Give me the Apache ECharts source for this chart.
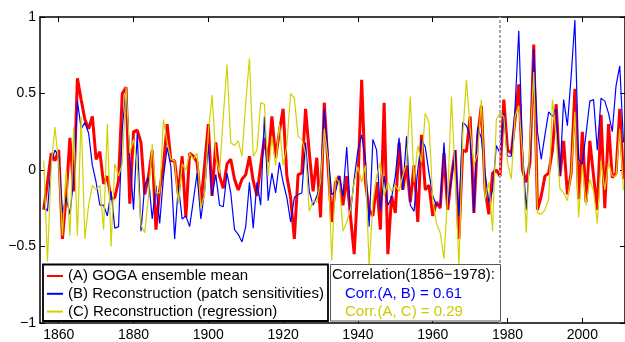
<!DOCTYPE html>
<html>
<head>
<meta charset="utf-8">
<script src="https://cdn.jsdelivr.net/npm/echarts@6/dist/echarts.min.js"></script>
<style>
  html, body { margin: 0; padding: 0; background: #fff; }
  #main { width: 625px; height: 342px; }
</style>
</head>
<body>
<div id="main"></div>
<script>
const firstYear = 1856;

// (A) GOGA ensemble mean, one value per year from 1856
const goga = [
  -0.26, -0.08, 0.11, 0.06,
  0.13, -0.45, -0.17, 0.21, -0.14, 0.60, 0.46, 0.33, 0.27, 0.35,
  0.07, 0.12, -0.09, -0.04, -0.19, -0.18, -0.07, 0.50, 0.54, -0.22,
  0.25, 0.26, 0.18, -0.16, -0.04, 0.13, -0.39, -0.13, 0.03, 0.30,
  0.06, 0.06, -0.16, 0.09, -0.31, 0.11, 0.09, 0.05, -0.23, 0.03,
  0.30, -0.17, 0.18, -0.04, -0.12, 0.04, 0.07, -0.06, -0.13, -0.06,
  -0.03, 0.09, -0.07, -0.17, 0.03, 0.21, 0.05, 0.35, 0.08, 0.25,
  0.40, -0.04, -0.18, -0.45, -0.03, -0.02, 0.40, 0.11, -0.14, 0.08,
  -0.31, 0.44, 0.03, -0.34, -0.08, -0.04, -0.23, -0.04, -0.30, -0.55,
  -0.08, 0.59, -0.08, -0.26, -0.30, -0.08, -0.39, 0.44, -0.55, -0.17,
  -0.28, 0.18, -0.13, 0.03, -0.21, 0.03, -0.34, 0.23, -0.13, -0.10,
  -0.30, -0.21, -0.25, 0.11, -0.26, -0.04, 0.13, -0.45, 0.13, 0.12,
  0.35, -0.28, 0.22, 0.42, -0.13, -0.29, -0.02, 0.00, -0.04, 0.46,
  0.13, 0.11, 0.33, 0.56, 0.00, -0.08, 0.05, 0.82, -0.26, -0.17,
  -0.04, -0.02, 0.13, 0.43, -0.04, 0.19, -0.16, -0.02, 0.53, -0.19,
  0.25, -0.21, 0.19, -0.04, -0.26, 0.36, -0.25, 0.30, -0.05, -0.02,
  0.40, -0.06
];

// (B) Reconstruction (patch sensitivities)
const patch = [
  -0.23, -0.27, 0.05, 0.13,
  0.09, -0.28, -0.18, -0.29, -0.06, 0.45, 0.27, 0.31, 0.24, 0.03,
  -0.08, -0.23, -0.23, -0.30, -0.14, -0.38, -0.37, 0.27, 0.53, 0.09,
  -0.26, 0.24, -0.40, -0.10, -0.05, -0.32, -0.10, -0.35, -0.05, 0.15,
  0.02, -0.45, -0.10, -0.32, -0.30, -0.37, -0.20, -0.02, -0.32, -0.14,
  0.17, -0.17, -0.03, -0.23, -0.24, -0.02, -0.15, -0.39, -0.42, -0.47,
  -0.37, -0.08, -0.38, -0.08, -0.23, 0.35, -0.20, -0.02, -0.15, 0.05,
  -0.08, -0.18, -0.34, -0.18, -0.16, -0.15, 0.18, -0.14, -0.23, -0.17,
  -0.10, 0.40, 0.11, -0.16, -0.14, -0.04, -0.17, 0.15, -0.28, -0.06,
  0.13, 0.23, 0.07, -0.37, 0.20, 0.13, -0.27, -0.04, -0.23, -0.18,
  -0.04, 0.21, -0.13, 0.22, -0.23, -0.27, 0.00, 0.20, 0.15, -0.02,
  -0.17, -0.23, -0.23, 0.18, -0.23, -0.06, 0.13, -0.30, 0.31, 0.29,
  0.22, -0.28, 0.28, 0.21, -0.02, -0.21, -0.13, 0.16, 0.11, 0.37,
  0.09, 0.09, 0.40, 0.91, 0.13, -0.26, 0.09, 0.79, 0.25, 0.07,
  0.23, 0.38, 0.35, 0.40, -0.04, 0.46, 0.29, 0.61, 0.98, 0.07,
  0.04, 0.24, 0.45, 0.46, 0.13, 0.47, 0.45, 0.37, 0.25, 0.55,
  0.68, 0.18
];

// (C) Reconstruction (regression)
const regress = [
  0.06, -0.60, 0.03, 0.28,
  0.04, -0.43, 0.00, -0.43, 0.28, -0.43, 0.35, -0.45, -0.23, -0.10,
  -0.13, -0.10, -0.39, 0.30, -0.50, 0.04, -0.04, 0.04, 0.54, 0.11,
  0.20, 0.03, -0.36, -0.41, -0.17, 0.17, -0.15, -0.15, 0.33, 0.18,
  0.07, 0.06, -0.22, 0.04, 0.00, 0.11, 0.07, 0.11, -0.25, -0.16,
  0.24, 0.49, 0.09, -0.02, 0.35, 0.69, 0.18, 0.16, 0.19, 0.09,
  0.44, 0.73, 0.09, 0.13, 0.44, 0.43, -0.04, 0.22, 0.03, 0.30,
  0.03, 0.16, 0.50, 0.47, 0.22, 0.20, 0.11, -0.27, -0.20, -0.21,
  -0.08, 0.27, 0.07, -0.59, -0.05, -0.08, -0.40, -0.34, -0.26, -0.08,
  0.02, -0.08, 0.03, -0.63, -0.21, -0.04, 0.05, -0.17, -0.08, -0.14,
  -0.10, -0.14, -0.04, 0.05, 0.48, -0.08, 0.16, 0.05, 0.37, 0.31,
  -0.20, -0.35, -0.41, -0.58, -0.17, 0.48, -0.04, -0.63, 0.22, 0.59,
  0.27, 0.03, 0.11, 0.46, -0.19, -0.08, -0.40, 0.33, 0.37, 0.35,
  0.05, -0.06, 0.35, 0.42, 0.11, -0.41, 0.18, 0.64, -0.28, -0.29,
  -0.26, -0.19, 0.46, 0.22, -0.12, -0.15, -0.20, -0.02, 0.38, -0.31,
  0.03, -0.23, -0.06, -0.14, -0.35, 0.06, -0.13, 0.05, -0.04, -0.04,
  0.27, -0.13
];

const seriesNames = [
  '(A) GOGA ensemble mean',
  '(B) Reconstruction (patch sensitivities)',
  '(C) Reconstruction (regression)'
];
const xTicks = [1860, 1880, 1900, 1920, 1940, 1960, 1980, 2000];
const splitYear = 1978;
const corrLines = [
  'Correlation(1856\u22121978):',
  'Corr.(A, B) = 0.61',
  'Corr.(A, C) = 0.29'
];

const font = 'Liberation Sans, Arial, sans-serif';

let chart = echarts.init(document.getElementById('main'), null, { renderer: 'canvas' });

function toPairs(values) {
  return values.map((v, i) => [firstYear + i, v]);
}

function xAxisOf(position, showLabels) {
  return {
    type: 'value',
    position: position,
    min: 1855,
    max: 2011.4,
    axisLine: { show: true, onZero: false, lineStyle: { color: '#000', width: 1.5 } },
    axisTick: { show: true, inside: true, length: 5, customValues: xTicks, lineStyle: { color: '#000' } },
    axisLabel: {
      show: showLabels, customValues: xTicks, color: '#000', fontSize: 14, fontFamily: font, margin: 5,
      formatter: (v) => String(v)
    },
    splitLine: { show: false }
  };
}

function yAxisOf(position, showLabels) {
  return {
    type: 'value',
    position: position,
    min: -1,
    max: 1,
    interval: 0.5,
    axisLine: { show: true, onZero: false, lineStyle: { color: '#000', width: 1.5 } },
    axisTick: { show: true, inside: true, length: 5, lineStyle: { color: '#000' } },
    axisLabel: {
      show: showLabels, color: '#000', fontSize: 14, fontFamily: font, margin: 4,
      formatter: (v) => String(v).replace('-', '\u2212')
    },
    splitLine: { show: false }
  };
}

function createChartOptions() {
  return {
    animation: false,
    backgroundColor: '#fff',
    grid: { left: 40, right: 0, top: 17, bottom: 18 },
    xAxis: [xAxisOf('bottom', true), xAxisOf('top', false)],
    yAxis: [yAxisOf('left', true), yAxisOf('right', false)],
    legend: {
      orient: 'vertical',
      left: 46,
      top: 268.5,
      padding: 0,
      itemWidth: 16,
      itemHeight: 12,
      itemGap: 2.8,
      selectedMode: false,
      z: 20,
      itemStyle: { opacity: 0 },
      textStyle: { color: '#000', fontSize: 15, fontFamily: font },
      data: seriesNames
    },
    series: [
      {
        name: seriesNames[0],
        type: 'line',
        data: toPairs(goga),
        symbol: 'none',
        lineStyle: { color: '#ff0000', width: 3 },
        itemStyle: { color: '#ff0000' },
        markLine: {
          silent: true,
          symbol: 'none',
          label: { show: false },
          lineStyle: { color: '#a8a8a8', width: 2, type: [3, 2] },
          data: [{ xAxis: splitYear }]
        }
      },
      {
        name: seriesNames[1],
        type: 'line',
        data: toPairs(patch),
        symbol: 'none',
        lineStyle: { color: '#0000ff', width: 1.2 },
        itemStyle: { color: '#0000ff' }
      },
      {
        name: seriesNames[2],
        type: 'line',
        data: toPairs(regress),
        symbol: 'none',
        lineStyle: { color: '#d2d200', width: 1.2 },
        itemStyle: { color: '#d2d200' }
      }
    ],
    graphic: [
      { type: 'rect', z: 10, shape: { x: 43, y: 264.5, width: 285, height: 56.5 },
        style: { fill: '#fff', stroke: '#000', lineWidth: 1.8 } },
      { type: 'rect', z: 10, shape: { x: 330.5, y: 264.5, width: 170, height: 56.5 },
        style: { fill: '#fff', stroke: '#555', lineWidth: 1 } },
      { type: 'text', z: 20, x: 332, y: 275,
        style: { text: corrLines[0], fill: '#000', fontSize: 15, fontFamily: font, verticalAlign: 'middle' } },
      { type: 'text', z: 20, x: 345, y: 294,
        style: { text: corrLines[1], fill: '#0000ff', fontSize: 15, fontFamily: font, verticalAlign: 'middle' } },
      { type: 'text', z: 20, x: 345, y: 312,
        style: { text: corrLines[2], fill: '#cccc00', fontSize: 15, fontFamily: font, verticalAlign: 'middle' } }
    ]
  };
}

chart.setOption(createChartOptions());
</script>
</body>
</html>
